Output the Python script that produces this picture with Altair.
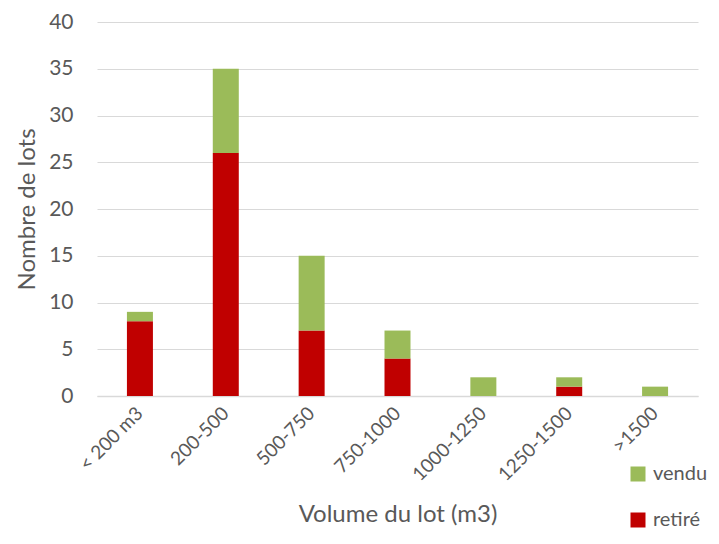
import altair as alt
import pandas as pd

categories = ["< 200 m3", "200-500", "500-750", "750-1000", "1000-1250", "1250-1500", ">1500"]
retire = [8, 26, 7, 4, 0, 1, 0]
vendu = [1, 9, 8, 3, 2, 1, 1]
series = ["vendu", "retiré"]
colors = ["#9BBB59", "#C00000"]

rows = []
for c, r, v in zip(categories, retire, vendu):
    rows.append({"cat": c, "statut": "retiré", "n": r, "ord": 0})
    rows.append({"cat": c, "statut": "vendu", "n": v, "ord": 1})
df = pd.DataFrame(rows)

FONT = "Lato"
TXT = "#595959"

chart = alt.Chart(df).mark_bar(size=26).encode(
    x=alt.X("cat:N", sort=categories,
            scale=alt.Scale(paddingInner=0, paddingOuter=0),
            axis=alt.Axis(title="Volume du lot (m3)", labelAngle=-45, labelAlign="right",
                          labelBaseline="middle", labelPadding=14, ticks=False,
                          domainColor="#D9D9D9", domainWidth=1.5,
                          labelFontSize=19, titleFontSize=24, titlePadding=18,
                          labelColor=TXT, titleColor=TXT, titleFontWeight="normal",
                          labelFont=FONT, titleFont=FONT)),
    y=alt.Y("n:Q", stack="zero",
            scale=alt.Scale(domain=[0, 40]),
            axis=alt.Axis(title="Nombre de lots", values=list(range(0, 41, 5)),
                          domain=False, ticks=False, gridColor="#D9D9D9", gridWidth=1,
                          labelPadding=24, labelFontSize=21, titleFontSize=24,
                          titlePadding=9, labelColor=TXT, titleColor=TXT,
                          titleFontWeight="normal", labelFont=FONT, titleFont=FONT)),
    color=alt.Color("statut:N", scale=alt.Scale(domain=series, range=colors),
                    legend=alt.Legend(title=None, orient="none", legendX=531, legendY=442,
                                      symbolType="square", symbolSize=225,
                                      symbolStrokeWidth=0, rowPadding=26,
                                      labelFontSize=20, labelColor=TXT, labelFont=FONT,
                                      labelOffset=5)),
    order=alt.Order("ord:Q"),
).properties(
    width=601, height=374,
    autosize=alt.AutoSizeParams(type="none"),
    padding={"left": 89, "top": 14, "right": 13, "bottom": 140},
).configure_view(stroke=None)

chart.save("out.html", embed_options={"renderer": "svg", "actions": False})
